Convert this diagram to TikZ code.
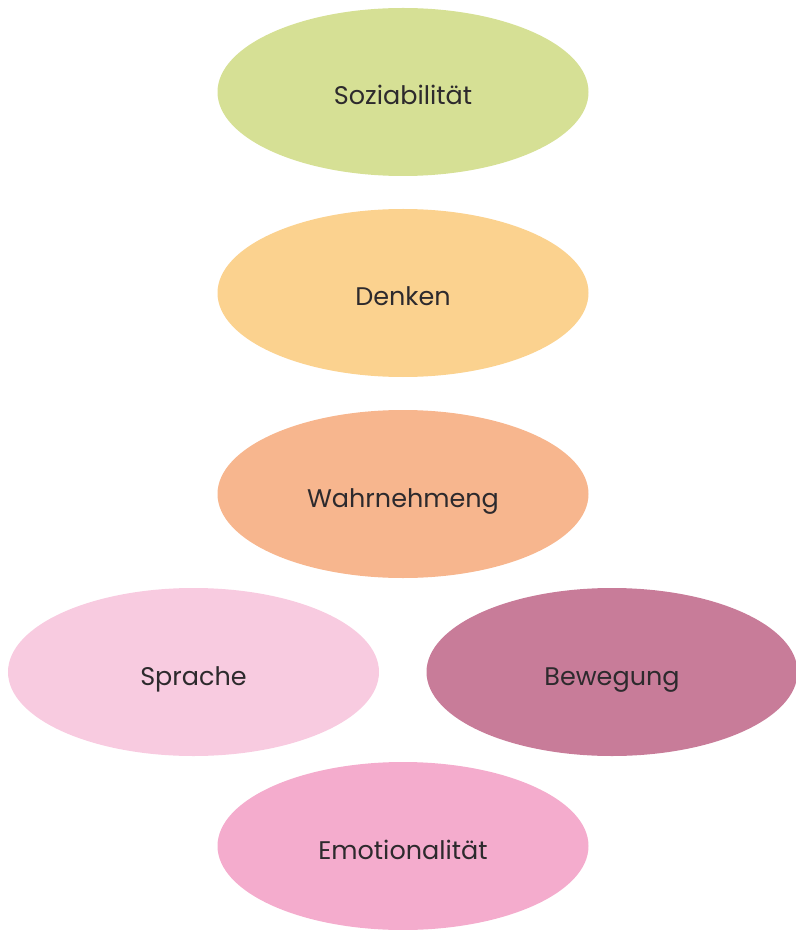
\documentclass[tikz,border=0pt]{standalone}
\usepackage{fontspec}
\setmainfont{Poppins}
\usetikzlibrary{shapes.geometric, positioning}
\definecolor{SoftLime}{RGB}{214, 224, 149}
\definecolor{SoftApricot}{RGB}{251, 210, 143}
\definecolor{SoftSalmon}{RGB}{247, 182, 142}
\definecolor{PalePink}{RGB}{248, 203, 224}
\definecolor{DustyRose}{RGB}{200, 124, 153}
\definecolor{CandyPink}{RGB}{244, 172, 205}
\definecolor{InkGrey}{RGB}{45, 42, 45}

\begin{document}
\begin{tikzpicture}[
    blob/.style={ellipse, minimum width=7.42cm, minimum height=3.36cm,
                 inner sep=0pt, text=InkGrey, text height=0.62cm, text depth=0.1cm,
                 font=\fontsize{14.5}{16}\selectfont}
]
    \useasboundingbox (0,0) rectangle (15.9,-18.6);
    \node[blob, fill=SoftLime] (soz) at (8.06,-1.84) {Soziabilität};
    \node[blob, fill=SoftApricot] (denk) at (8.06,-5.86) {Denken};
    \node[blob, fill=SoftSalmon] (wahr) at (8.06,-9.88) {Wahrnehmeng};
    \node[blob, fill=PalePink] (spr) at (3.87,-13.44) {Sprache};
    \node[blob, fill=DustyRose] (bew) at (12.24,-13.44) {Bewegung};
    \node[blob, fill=CandyPink] (emo) at (8.06,-16.92) {Emotionalität};
\end{tikzpicture}
\end{document}
